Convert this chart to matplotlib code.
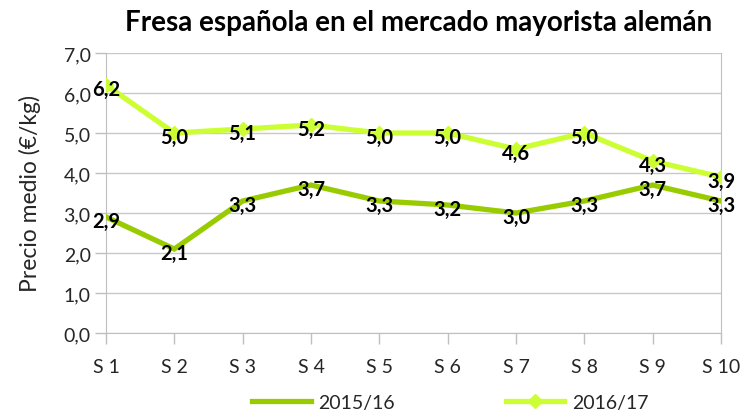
import matplotlib.pyplot as plt

semanas = ["S 1", "S 2", "S 3", "S 4", "S 5", "S 6", "S 7", "S 8", "S 9", "S 10"]
precio_1516 = [2.9, 2.1, 3.3, 3.7, 3.3, 3.2, 3.0, 3.3, 3.7, 3.3]
precio_1617 = [6.2, 5.0, 5.1, 5.2, 5.0, 5.0, 4.6, 5.0, 4.3, 3.9]
yticks = [0, 1, 2, 3, 4, 5, 6, 7]

plt.rcParams['font.family'] = ['Lato', 'DejaVu Sans']

fig = plt.figure(figsize=(7.43, 4.14), dpi=100)
ax = fig.add_axes([106 / 743, 1 - 334 / 414, (721 - 106) / 743, (334 - 54) / 414])

x = list(range(len(semanas)))
ax.plot(x, precio_1516, color="#99CC00", lw=3.8, solid_joinstyle="miter",
        label="2015/16", zorder=3)
ax.plot(x, precio_1617, color="#CCFF33", lw=3.8, marker="D", ms=7.5,
        label="2016/17", zorder=3)

for serie in (precio_1516, precio_1617):
    for xi, v in zip(x, serie):
        ax.text(xi, v - 0.1, f"{v:.1f}".replace(".", ","), ha="center", va="center",
                fontsize=14.5, fontweight="bold", color="black", zorder=4)

ax.set_xlim(0, len(semanas) - 1)
ax.set_ylim(0, 7)
ax.set_xticks(x)
ax.set_xticklabels(semanas)
ax.set_yticks(yticks)
ax.set_yticklabels([f"{v:.1f}".replace(".", ",") for v in yticks])
ax.tick_params(axis="both", colors="#BFBFBF", labelcolor="#262626", labelsize=14,
               length=8, width=1)
ax.tick_params(axis="x", pad=10)
ax.tick_params(axis="y", pad=3)
ax.grid(axis="y", color="#C8C8C8", lw=1)
ax.set_axisbelow(True)
for s in ax.spines.values():
    s.set_color("#BFBFBF")
ax.spines["top"].set_visible(False)

ax.set_ylabel("Precio medio (€/kg)", fontsize=16.5, color="#262626", labelpad=16)
fig.text(0.564, 0.945, "Fresa española en el mercado mayorista alemán",
         ha="center", va="center", fontsize=20, fontweight="bold", color="black")

fig.legend(loc="center", bbox_to_anchor=(0.606, 0.025), ncol=2, frameon=False,
           fontsize=14, handlelength=3, handletextpad=0.4, columnspacing=5.7,
           labelcolor="#262626")

fig.savefig("out.png", dpi=100)
